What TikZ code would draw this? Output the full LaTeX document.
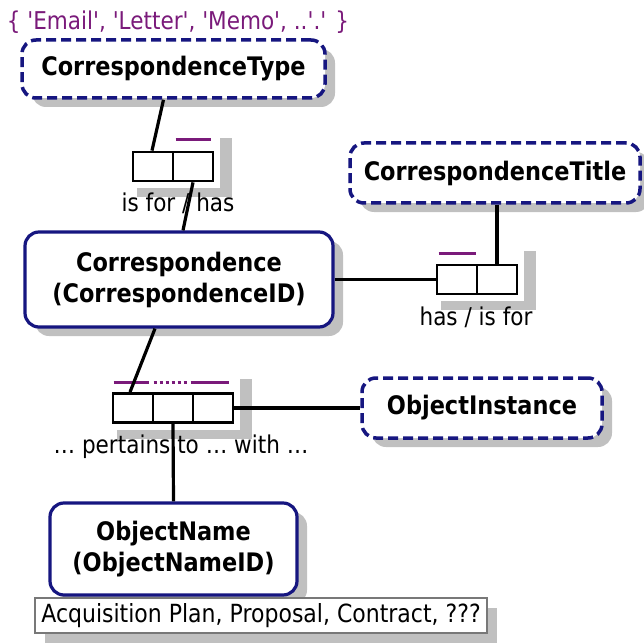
\documentclass[tikz,border=0pt]{standalone}
\usepackage{fontspec}
\setmainfont{DejaVu Sans}[FakeStretch=0.88]
\newfontfamily\plainquotes{DejaVu Sans}[FakeStretch=0.88]
\usetikzlibrary{calc,shadows}
\pgfdeclarelayer{bg}
\pgfsetlayers{bg,main}
\definecolor{navy}{RGB}{22,22,128}
\definecolor{enumpurple}{RGB}{122,26,122}
\definecolor{shadegray}{RGB}{192,192,192}
\definecolor{notegray}{RGB}{120,120,120}
\tikzset{
  txt/.style={font=\fontsize{24.5}{29}\selectfont, inner sep=0pt},
  entity/.style={rounded corners=14pt, draw=navy, line width=3.2pt, fill=white,
    align=center, inner sep=0pt, font=\fontsize{25.5}{31}\selectfont\bfseries,
    general shadow={fill=shadegray, shadow xshift=10pt, shadow yshift=-9pt}},
  valuetype/.style={entity, dash pattern=on 10pt off 5pt, line width=3.5pt},
  rolecell/.style={draw=black, line width=2.8pt, fill=white,
    minimum width=40pt, minimum height=29pt, inner sep=0pt},
  link/.style={draw=black, line width=3.2pt},
  uniq/.style={draw=enumpurple, line width=3pt},
  rolegray/.style={fill=shadegray},
  notebox/.style={draw=notegray, line width=2.5pt, fill=white, inner sep=0pt,
    font=\fontsize{25}{30}\selectfont,
    general shadow={fill=shadegray, shadow xshift=10pt, shadow yshift=-10pt}}
}
% gray L-shaped shadow behind a row of role cells (first cell, last cell)
\newcommand\roleshade[2]{%
  \fill[rolegray] ([xshift=6pt,yshift=13pt]#2.north east) rectangle ([xshift=18pt,yshift=-15pt]#2.south east);
  \fill[rolegray] ([xshift=5pt,yshift=-6pt]#1.south west) rectangle ([xshift=18pt,yshift=-15pt]#2.south east);}
\begin{document}
\begin{tikzpicture}[x=1pt,y=-1pt]
\useasboundingbox (0,0) rectangle (644,644);

% entity and value types
\node[valuetype, minimum width=303pt, minimum height=58pt] (ctype) at (173.5,69) {CorrespondenceType};
\node[valuetype, minimum width=290pt, minimum height=60pt] (ctitle) at (495,173) {CorrespondenceTitle};
\node[entity, minimum width=308pt, minimum height=95pt] (corr) at (179,279.5) {Correspondence\\(CorrespondenceID)};
\node[valuetype, minimum width=240pt, minimum height=60pt] (oinst) at (482,408) {ObjectInstance};
\node[entity, minimum width=247pt, minimum height=92pt] (oname) at (173.5,549) {ObjectName\\(ObjectNameID)};
\node[notebox, minimum width=452pt, minimum height=35pt] (note) at (261,615.5) {Acquisition Plan, Proposal, Contract, ???};

% fact type role boxes
\node[rolecell] (r1a) at (153,166.5) {};
\node[rolecell] (r1b) at (193,166.5) {};
\node[rolecell] (r2a) at (457,279.5) {};
\node[rolecell] (r2b) at (497,279.5) {};
\node[rolecell] (r3a) at (133,408) {};
\node[rolecell] (r3b) at (173,408) {};
\node[rolecell] (r3c) at (213,408) {};

\begin{pgfonlayer}{bg}
  \roleshade{r1a}{r1b}
  \roleshade{r2a}{r2b}
  \roleshade{r3a}{r3c}
\end{pgfonlayer}

% uniqueness constraints
\draw[uniq] ([xshift=4pt,yshift=11pt]r1b.north west) -- ([xshift=-3pt,yshift=11pt]r1b.north east);
\draw[uniq] ([xshift=3pt,yshift=10pt]r2a.north west) -- ([xshift=-2pt,yshift=10pt]r2a.north east);
\draw[uniq] ([xshift=2pt,yshift=10pt]r3a.north west) -- ([xshift=-5pt,yshift=10pt]r3a.north east);
\draw[uniq, dash pattern=on 3pt off 3pt] ([xshift=2pt,yshift=10pt]r3b.north west) -- ([xshift=-6pt,yshift=10pt]r3b.north east);
\draw[uniq] ([xshift=-1pt,yshift=10pt]r3c.north west) -- ([xshift=-5pt,yshift=10pt]r3c.north east);

% connectors
\draw[link] ([xshift=-10pt]ctype.south) -- ([xshift=-1pt]r1a.north);
\draw[link] (r1b.south) -- ([xshift=4pt]corr.north);
\draw[link] (ctitle.south -| r2b.north) -- (r2b.north);
\draw[link] (corr.east) -- (r2a.west);
\draw[link] ([xshift=-24pt]corr.south) -- ([xshift=-3pt]r3a.north);
\draw[link] (r3c.east) -- (oinst.west);
\draw[link] (r3b.south) -- (oname.north);

% readings and value list
\node[txt, text=enumpurple, font=\fontsize{24.5}{29}\plainquotes] (vals) at (178,22) {\{ 'Email', 'Letter', 'Memo', ..'.' \}};
\node[txt] (read1) at (178,203) {is for / has};
\node[txt] (read2) at (476,317) {has / is for};
\node[txt] (read3) at (181,447) {… pertains to … with …};
\end{tikzpicture}
\end{document}
